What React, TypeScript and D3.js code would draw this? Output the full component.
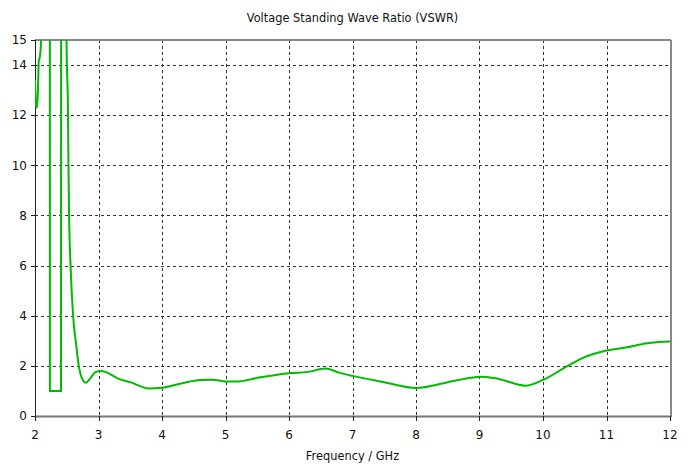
import React from "react";
import * as d3 from "d3";

const freqGHz = [
  2.0, 2.015, 2.03, 2.045, 2.06, 2.075, 2.1, 2.13, 2.2, 2.232, 2.235, 2.41, 2.412, 2.48,
  2.496, 2.52, 2.527, 2.537, 2.56, 2.6, 2.65, 2.69, 2.74, 2.8, 2.87, 2.95, 3.04, 3.12,
  3.3, 3.5, 3.8, 4.0, 4.3, 4.6, 4.8, 5.0, 5.2, 5.5, 6.0, 6.3, 6.57, 6.8, 7.0, 7.5, 8.0,
  8.5, 8.8, 9.05, 9.3, 9.72, 10.0, 10.39, 10.63, 11.0, 11.3, 11.64, 12.0,
];
const vswr = [
  13.4, 12.4, 12.3, 12.9, 14.2, 14.3, 15.2, 25, 40, 40, 1.0, 1.0, 40, 40,
  15, 12, 10, 8, 6, 4, 2.8, 2.0, 1.5, 1.33, 1.5, 1.75, 1.8, 1.75,
  1.5, 1.35, 1.1, 1.13, 1.3, 1.44, 1.45, 1.38, 1.38, 1.52, 1.71, 1.76, 1.89, 1.72, 1.6, 1.35, 1.12,
  1.35, 1.5, 1.57, 1.48, 1.21, 1.44, 2.0, 2.32, 2.61, 2.73, 2.9, 2.97,
];
const xTicks = [2, 3, 4, 5, 6, 7, 8, 9, 10, 11, 12];
const yTicks = [0, 2, 4, 6, 8, 10, 12, 14, 15];
const title = "Voltage Standing Wave Ratio (VSWR)";
const xLabel = "Frequency / GHz";

export default function App() {
  const W = 692, H = 466;
  const L = 35, R = 670, T = 40, B = 416;
  const x = d3.scaleLinear().domain([2, 12]).range([L, R]);
  const y = d3.scaleLinear().domain([0, 15]).range([B, T]);
  const pts = freqGHz.map((f, i) => [f, vswr[i]] as [number, number]);
  const line = d3
    .line<[number, number]>()
    .x((d) => x(d[0]))
    .y((d) => y(d[1]))
    .curve(d3.curveMonotoneX);
  const font = "Tahoma, 'DejaVu Sans', sans-serif";
  return (
    <svg
      width={W}
      height={H}
      style={{ position: "absolute", left: 0, top: 0, background: "#fff" }}
      fontFamily={font}
    >
      <defs>
        <clipPath id="plot">
          <rect x={L} y={T} width={R - L} height={B - T} />
        </clipPath>
      </defs>
      <text x={(L + R) / 2} y={22} textAnchor="middle" fontSize={11.4} fill="#111">
        {title}
      </text>
      {xTicks.slice(1, -1).map((t) => (
        <line
          key={"gx" + t}
          x1={Math.round(x(t)) + 0.5}
          x2={Math.round(x(t)) + 0.5}
          y1={T}
          y2={B}
          stroke="#333"
          strokeDasharray="3,3"
        />
      ))}
      {yTicks.slice(1, -1).map((t) => (
        <line
          key={"gy" + t}
          x1={L}
          x2={R}
          y1={Math.round(y(t)) + 0.5}
          y2={Math.round(y(t)) + 0.5}
          stroke="#333"
          strokeDasharray="3,3"
        />
      ))}
      {/* frame */}
      <line x1={L} x2={R + 1} y1={T} y2={T} stroke="#888" strokeWidth={2} />
      <line x1={R + 1} x2={R + 1} y1={T} y2={B + 1} stroke="#888" strokeWidth={2} />
      <line x1={L} x2={R + 1} y1={B + 0.5} y2={B + 0.5} stroke="#777" strokeWidth={2} />
      <line x1={L + 0.5} x2={L + 0.5} y1={T} y2={B + 1} stroke="#222" strokeWidth={1} />
      {yTicks.map((t) => (
        <g key={"ty" + t}>
          <line x1={L - 4} x2={L} y1={Math.round(y(t)) + 0.5} y2={Math.round(y(t)) + 0.5} stroke="#222" />
          <text x={27} y={y(t)} dy="0.35em" textAnchor="end" fontSize={12} fill="#111">
            {t}
          </text>
        </g>
      ))}
      {xTicks.map((t) => (
        <g key={"tx" + t}>
          <line x1={Math.round(x(t)) + 0.5} x2={Math.round(x(t)) + 0.5} y1={B} y2={B + 5} stroke="#222" />
          <text x={x(t)} y={439} textAnchor="middle" fontSize={12} fill="#111">
            {t}
          </text>
        </g>
      ))}
      <text x={(L + R) / 2} y={460} textAnchor="middle" fontSize={11.4} fill="#111">
        {xLabel}
      </text>
      <path
        d={line(pts) || ""}
        fill="none"
        stroke="#00bb00"
        strokeWidth={2}
        clipPath="url(#plot)"
      />
    </svg>
  );
}
